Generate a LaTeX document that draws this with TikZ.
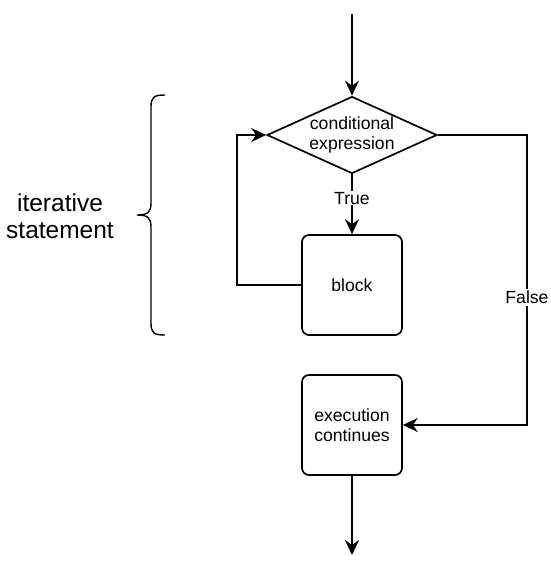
\documentclass[tikz,border=0pt]{standalone}
\usepackage{fontspec}
\setmainfont{Liberation Sans}
\usetikzlibrary{shapes.geometric,arrows.meta}
\begin{document}
\begin{tikzpicture}[x=1pt,y=-1pt,
  line width=1.7pt,
  lbl/.style={font=\fontsize{17.6}{20.5}\selectfont, align=center},
  box/.style={draw, rounded corners=7pt, minimum width=100pt, minimum height=100pt, inner sep=0pt, lbl},
  arr/.style={-{Stealth[length=15pt,width=14pt,inset=5pt]}}]
\useasboundingbox (0,0) rectangle (550,571);
\node[draw, diamond, minimum width=170pt, minimum height=77pt, inner sep=0pt] (cond) at (352,135) {};
\node[lbl] (condt) at (cond.center) {conditional\\expression};
\node[box] (block) at (352,285) {block};
\node[box] (exec) at (352,425) {execution\\continues};
\coordinate (start) at (352,14);
\coordinate (end) at (352,555);
\coordinate (loopc) at (237,285);
\coordinate (falsec) at (527,135);
\draw[arr] (start) -- (cond.north);
\draw[arr] (cond.south) -- node[pos=0.4, lbl, fill=white, inner sep=1pt] (truel) {True} (block.north);
\draw[arr] (block.west) -- (loopc) |- (cond.west);
\draw[arr] (cond.east) -- (falsec) |- node[pos=0.28, lbl, fill=white, inner sep=2pt] (falsel) {False} (exec.east);
\draw[arr] (exec.south) -- (end);
\draw[line width=1.4pt] (165,95) .. controls (154,95) and (151,97) .. (151,107) -- (151,203) .. controls (151,212) and (148,215) .. (137,215) .. controls (148,215) and (151,218) .. (151,227) -- (151,323) .. controls (151,333) and (154,335) .. (165,335);
\node[font=\fontsize{24.5}{27.5}\selectfont, align=center] (iter) at (60,216) {iterative\\statement};
\end{tikzpicture}
\end{document}
